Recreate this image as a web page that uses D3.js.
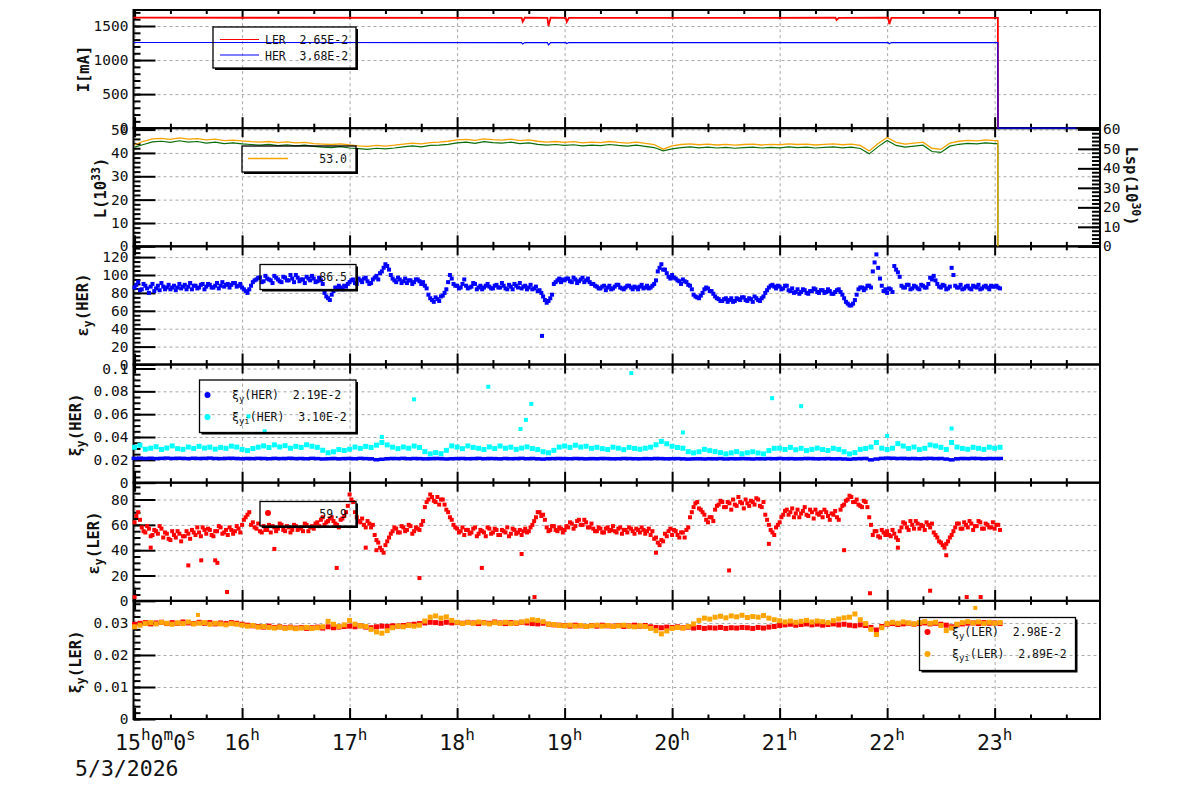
<!DOCTYPE html>
<html>
<head>
<meta charset="utf-8">
<title>Beam trend 5/3/2026</title>
<script src="https://d3js.org/d3.v7.min.js"></script>
<style>
  body { margin: 0; background: #fff; }
  svg text { font-family: "DejaVu Sans Mono", monospace; fill: #111; }
  .grid line { stroke: #a8a8a8; stroke-dasharray: 3,3; stroke-width: 1; }
  .grid .domain { display: none; }
  .tk line { stroke: #000; stroke-width: 2; }
  .tk .domain { display: none; }
  .tk text { font-size: 14.5px; }
  .lg { font-size: 11.5px; white-space: pre; }
</style>
</head>
<body>
<script>
// ---------------- data (hours of day) ----------------
var hourTicks = [15, 16, 17, 18, 19, 20, 21, 22, 23];
var hourLabels = ["15", "16", "17", "18", "19", "20", "21", "22", "23"];
var dateLabel = "5/3/2026";

// beam currents [mA]: break points
var curTime = [14.99, 18.60, 18.61, 18.63, 18.84, 18.85, 18.87, 19.01, 19.02, 19.04, 21.52, 21.53, 21.55, 22.01, 22.02, 22.04, 23.03, 23.031, 23.76];
var curLER  = [1622, 1620, 1565, 1621, 1620, 1500, 1621, 1620, 1562, 1620, 1621, 1588, 1620, 1621, 1528, 1620, 1620, 0, 0];
var curHER  = [1258, 1257, 1236, 1257, 1257, 1222, 1257, 1257, 1244, 1257, 1257, 1255, 1257, 1257, 1240, 1257, 1257, 0, 0];

// luminosity, 5 min samples from 15:00
var lumStep = 5;
var lumOrange = [43.5,45.0,46.0,46.2,45.8,46.4,45.9,46.1,45.6,45.9,45.3,45.5,
  45.2,44.8,44.6,44.9,44.4,44.7,44.3,44.5,44.0,43.8,43.6,43.9,
  43.4,43.0,42.8,43.2,42.9,43.3,43.8,44.2,43.9,44.4,44.6,45.0,
  45.6,45.8,45.4,46.0,45.7,45.5,45.9,45.3,45.6,45.0,44.6,44.9,
  44.5,44.8,44.3,44.6,44.4,44.9,44.5,44.2,44.6,44.1,43.6,41.6,
  43.0,43.6,43.9,43.5,43.8,43.4,43.7,43.3,43.6,43.8,43.4,43.7,
  43.5,43.9,43.6,43.8,43.4,43.7,43.9,43.5,43.8,43.2,40.8,44.0,
  46.6,44.5,43.8,44.2,44.6,42.0,41.5,44.2,45.0,45.4,45.2,45.6,
  45.3];
var lumGreen = [42.5,43.6,44.7,45.0,44.5,45.2,44.6,44.9,44.2,44.6,44.0,44.3,
  43.9,43.6,43.3,43.7,43.1,43.5,43.0,43.3,42.8,42.5,42.3,42.7,
  42.1,41.8,41.5,42.0,41.7,42.1,42.6,43.0,42.6,43.2,43.3,43.7,
  44.3,44.6,44.1,44.8,44.4,44.2,44.6,44.0,44.3,43.7,43.3,43.6,
  43.2,43.5,43.0,43.3,43.1,43.6,43.2,42.9,43.3,42.8,42.3,40.9,
  41.7,42.3,42.6,42.2,42.5,42.1,42.4,42.0,42.3,42.5,42.1,42.4,
  42.2,42.6,42.3,42.5,42.1,42.4,42.6,42.2,42.5,41.9,39.6,42.7,
  45.3,43.2,42.5,42.9,43.3,40.6,40.2,42.9,43.7,44.1,43.9,44.3,
  44.0];
var lumOffTime = 23.03;

// vertical emittance HER, 2 min samples from 15:00 (even minutes) and 15:01 (odd minutes)
var emitStep = 2;
var emitHER = [86,92,84,88,80,90,85,83,87,86,84,88,86,85,89,87,84,88,86,90,87,89,86,91,88,87,90,89,91,88,
  86,82,84,92,95,97,93,96,94,99,95,92,97,94,96,100,93,95,98,94,96,93,94,80,74,78,86,88,84,87,
  92,95,90,94,96,93,91,97,95,104,112,106,96,92,95,93,91,94,92,95,90,88,78,72,75,71,77,84,100,90,
  88,86,95,85,87,90,86,84,88,87,85,89,86,88,84,87,90,86,85,88,86,84,87,83,76,69,74,90,94,92,
  94,96,92,95,93,97,94,92,90,87,85,88,86,84,87,89,85,86,88,84,86,87,85,88,86,90,104,112,106,98,
  100,96,93,95,92,88,78,75,77,84,85,82,76,73,71,74,72,70,74,72,75,71,73,76,72,74,80,86,89,85,
  87,85,88,82,80,84,81,83,79,82,84,80,83,81,82,79,83,81,74,68,66,72,84,86,85,88,104,123,96,82,
  80,84,110,103,88,86,89,85,87,84,88,86,97,99,90,86,88,85,108,88,86,84,87,85,88,86,84,87,86,88,
  87,86];
var emitHERodd = [89,83,90,85,87,82,88,91,84,89,86,83,90,87,84,91,88,85,89,84,90,86,88,85,92,89,86,91,87,90,
  84,80,88,94,97,92,99,95,91,97,93,98,94,100,92,97,95,91,96,99,92,97,90,76,72,82,84,86,88,90,
  94,91,96,92,97,90,95,99,102,108,110,100,94,97,91,96,94,90,95,93,92,85,74,70,73,76,80,92,96,88,
  85,90,88,86,91,84,88,86,90,85,88,86,91,85,89,84,88,91,87,84,89,85,82,80,72,71,78,92,96,95,
  96,93,97,91,95,92,96,90,88,85,87,83,88,85,89,86,84,88,86,87,84,89,86,85,88,94,108,106,102,96,
  97,94,90,93,89,84,76,74,80,86,82,79,74,71,73,70,74,71,73,75,72,74,70,74,71,76,83,88,87,88,
  84,88,83,85,81,79,84,80,82,85,81,83,80,84,79,81,84,78,70,66,68,78,86,83,88,86,114,108,88,84,
  85,81,106,98,86,89,84,88,85,89,86,90,95,94,87,89,84,87,100,86,89,85,88,84,87,89,85,88,84,87,
  88,85];
var emitHEROutT = [18.79];
var emitHEROutV = [32];

// vertical emittance LER
var emitLER = [62,70,58,54,57,52,55,59,50,53,48,52,55,47,51,53,56,52,54,58,53,56,51,55,58,54,52,56,55,57,
  60,66,70,62,57,55,59,56,54,58,57,60,55,58,56,59,57,55,60,58,57,62,64,60,63,66,61,58,65,70,
  84,78,66,62,60,63,58,52,46,40,44,50,55,57,54,58,56,59,55,57,60,74,80,82,78,76,80,72,66,60,
  57,55,52,56,54,58,53,55,51,57,54,56,52,55,58,53,56,54,52,57,55,60,66,70,68,58,56,59,55,57,
  56,58,61,59,64,60,62,58,57,55,57,54,58,56,55,57,53,56,58,55,57,54,56,55,52,49,46,48,53,55,
  52,55,50,54,56,66,74,78,72,68,62,66,72,76,78,74,77,80,75,78,73,77,79,76,80,74,68,60,54,58,
  62,68,72,70,66,72,69,74,67,70,72,68,66,70,64,68,66,72,76,80,82,78,76,74,78,66,52,55,50,54,
  55,51,53,48,58,61,56,60,63,57,59,62,58,54,50,46,42,47,52,58,61,57,60,63,56,59,62,57,60,58,
  57,60];
var emitLERodd = [67,64,55,59,51,56,53,57,54,49,55,50,53,51,55,49,54,58,51,56,57,52,55,59,53,56,58,53,59,54,
  64,68,60,58,61,54,56,60,59,55,61,56,59,54,60,56,58,61,55,59,61,59,66,62,65,63,60,64,67,75,
  80,70,63,65,58,61,60,48,42,38,47,53,58,54,59,55,60,53,58,56,63,78,84,79,82,80,76,70,64,58,
  54,58,56,53,57,51,56,54,58,53,57,52,56,54,51,57,53,56,55,54,58,63,70,67,64,55,59,56,58,54,
  59,62,57,63,60,64,58,61,55,58,54,57,55,59,54,58,56,54,57,53,56,58,53,57,55,50,44,47,51,57,
  56,52,54,50,58,70,77,73,70,64,66,63,75,79,74,78,72,76,82,77,80,75,78,81,75,78,64,56,52,60,
  66,71,68,73,69,66,71,68,72,65,69,70,72,67,69,71,64,75,79,83,78,80,75,79,74,60,55,51,56,52,
  52,56,50,55,62,58,63,57,61,60,56,60,61,52,47,44,45,50,55,61,57,62,58,61,59,63,57,61,58,62,
  60,56];
var emitLEROutT = [15.0, 15.15, 15.5, 15.62, 15.75, 15.77, 15.86, 16.3, 16.88, 17.15, 17.25, 17.65, 18.23, 18.6, 18.72, 19.85, 20.53, 20.9, 21.6, 21.84, 22.1, 22.4, 22.55, 22.74, 22.87];
var emitLEROutV = [3, 42, 28, 32, 32, 30, 7, 41, 26, 42, 40, 18, 26, 37, 3, 38, 24, 45, 40, 6, 42, 8, 36, 3, 3];

// beam-beam parameters, 3 min samples from 15:00
var xiStep = 3;
var xiHER = [0.0213,0.0215,0.0212,0.0214,0.0211,0.0213,0.0215,0.0212,0.0214,0.0213,0.0211,0.0214,0.0212,0.0213,0.0215,0.0212,0.0211,0.0213,0.0214,0.0212,
  0.0210,0.0212,0.0211,0.0213,0.0212,0.0210,0.0213,0.0211,0.0212,0.0214,0.0211,0.0212,0.0210,0.0213,0.0211,0.0208,0.0210,0.0212,0.0209,0.0211,
  0.0212,0.0210,0.0213,0.0211,0.0209,0.0201,0.0205,0.0210,0.0212,0.0211,0.0213,0.0210,0.0212,0.0211,0.0209,0.0210,0.0212,0.0211,0.0208,0.0210,
  0.0211,0.0212,0.0210,0.0211,0.0213,0.0210,0.0212,0.0211,0.0209,0.0212,0.0210,0.0211,0.0213,0.0210,0.0212,0.0209,0.0207,0.0210,0.0211,0.0212,
  0.0211,0.0210,0.0212,0.0211,0.0209,0.0211,0.0210,0.0212,0.0211,0.0209,0.0210,0.0212,0.0211,0.0210,0.0209,0.0211,0.0210,0.0212,0.0211,0.0209,
  0.0210,0.0211,0.0209,0.0207,0.0209,0.0210,0.0208,0.0210,0.0209,0.0211,0.0208,0.0210,0.0209,0.0211,0.0210,0.0208,0.0210,0.0209,0.0211,0.0210,
  0.0212,0.0210,0.0211,0.0209,0.0210,0.0212,0.0211,0.0209,0.0210,0.0211,0.0209,0.0210,0.0208,0.0205,0.0209,0.0211,0.0212,0.0200,0.0207,0.0213,
  0.0215,0.0214,0.0212,0.0213,0.0211,0.0212,0.0210,0.0212,0.0213,0.0211,0.0212,0.0207,0.0200,0.0209,0.0212,0.0211,0.0213,0.0212,0.0210,0.0212,
  0.0211,0.0212];
var xiiHER = [0.0310,0.0328,0.0293,0.0302,0.0315,0.0291,0.0304,0.0322,0.0298,0.0292,0.0312,0.0300,0.0318,0.0303,0.0311,0.0294,0.0309,0.0301,0.0320,0.0312,
  0.0292,0.0281,0.0299,0.0311,0.0322,0.0308,0.0331,0.0313,0.0324,0.0302,0.0318,0.0309,0.0332,0.0319,0.0310,0.0284,0.0262,0.0271,0.0290,0.0282,
  0.0293,0.0312,0.0301,0.0318,0.0309,0.0329,0.0352,0.0331,0.0311,0.0298,0.0313,0.0302,0.0321,0.0308,0.0272,0.0252,0.0263,0.0254,0.0283,0.0322,
  0.0312,0.0298,0.0322,0.0309,0.0301,0.0291,0.0313,0.0299,0.0321,0.0302,0.0311,0.0292,0.0303,0.0314,0.0299,0.0290,0.0271,0.0262,0.0283,0.0312,
  0.0321,0.0309,0.0328,0.0312,0.0319,0.0301,0.0310,0.0298,0.0291,0.0311,0.0302,0.0289,0.0309,0.0300,0.0293,0.0302,0.0311,0.0332,0.0362,0.0341,
  0.0319,0.0308,0.0302,0.0272,0.0261,0.0271,0.0292,0.0281,0.0272,0.0263,0.0252,0.0261,0.0272,0.0253,0.0262,0.0271,0.0260,0.0252,0.0281,0.0301,
  0.0302,0.0291,0.0309,0.0288,0.0301,0.0281,0.0292,0.0303,0.0290,0.0282,0.0301,0.0292,0.0271,0.0252,0.0263,0.0292,0.0300,0.0312,0.0352,0.0302,
  0.0291,0.0302,0.0342,0.0321,0.0300,0.0312,0.0290,0.0301,0.0331,0.0322,0.0310,0.0291,0.0352,0.0312,0.0300,0.0293,0.0310,0.0301,0.0292,0.0311,
  0.0302,0.0310];
var xiiHEROutT = [16.06, 16.21, 17.3, 17.6, 18.29, 18.59, 18.64, 18.69, 19.62, 20.1, 20.93, 21.2, 22.0, 22.6];
var xiiHEROutV = [0.058, 0.045, 0.040, 0.073, 0.084, 0.047, 0.055, 0.069, 0.096, 0.044, 0.074, 0.067, 0.041, 0.0475];

var xiLER = [0.0296,0.0299,0.0301,0.0297,0.0300,0.0302,0.0298,0.0301,0.0299,0.0303,0.0300,0.0298,0.0302,0.0299,0.0301,0.0297,0.0300,0.0298,0.0301,0.0299,
  0.0296,0.0293,0.0291,0.0289,0.0287,0.0290,0.0286,0.0288,0.0285,0.0287,0.0284,0.0286,0.0283,0.0285,0.0287,0.0284,0.0288,0.0285,0.0287,0.0289,
  0.0290,0.0288,0.0291,0.0287,0.0285,0.0288,0.0290,0.0289,0.0291,0.0290,0.0292,0.0294,0.0296,0.0298,0.0300,0.0302,0.0301,0.0299,0.0302,0.0300,
  0.0301,0.0299,0.0302,0.0300,0.0298,0.0301,0.0299,0.0303,0.0300,0.0298,0.0301,0.0299,0.0302,0.0300,0.0298,0.0297,0.0299,0.0296,0.0294,0.0293,
  0.0292,0.0290,0.0293,0.0291,0.0289,0.0292,0.0290,0.0293,0.0291,0.0290,0.0292,0.0289,0.0291,0.0293,0.0290,0.0292,0.0288,0.0286,0.0285,0.0287,
  0.0286,0.0288,0.0285,0.0287,0.0284,0.0286,0.0283,0.0285,0.0284,0.0286,0.0283,0.0285,0.0284,0.0286,0.0285,0.0283,0.0286,0.0284,0.0287,0.0289,
  0.0292,0.0294,0.0296,0.0293,0.0295,0.0297,0.0294,0.0296,0.0293,0.0295,0.0297,0.0294,0.0296,0.0293,0.0291,0.0294,0.0292,0.0286,0.0278,0.0289,
  0.0296,0.0298,0.0295,0.0297,0.0299,0.0296,0.0298,0.0300,0.0297,0.0299,0.0296,0.0293,0.0288,0.0294,0.0297,0.0299,0.0300,0.0298,0.0301,0.0299,
  0.0300,0.0298];
var xiiLER = [0.0288,0.0293,0.0298,0.0301,0.0297,0.0302,0.0299,0.0296,0.0300,0.0298,0.0303,0.0297,0.0299,0.0301,0.0296,0.0299,0.0297,0.0294,0.0298,0.0296,
  0.0293,0.0290,0.0292,0.0287,0.0289,0.0286,0.0284,0.0287,0.0283,0.0285,0.0282,0.0284,0.0286,0.0283,0.0285,0.0288,0.0305,0.0296,0.0289,0.0294,
  0.0308,0.0296,0.0291,0.0289,0.0280,0.0272,0.0268,0.0276,0.0285,0.0290,0.0288,0.0292,0.0290,0.0293,0.0306,0.0318,0.0322,0.0315,0.0319,0.0308,
  0.0302,0.0298,0.0301,0.0299,0.0303,0.0300,0.0297,0.0301,0.0299,0.0302,0.0298,0.0300,0.0303,0.0306,0.0310,0.0308,0.0304,0.0296,0.0295,0.0292,
  0.0291,0.0293,0.0290,0.0292,0.0289,0.0291,0.0293,0.0290,0.0292,0.0289,0.0291,0.0293,0.0290,0.0288,0.0291,0.0289,0.0283,0.0276,0.0266,0.0275,
  0.0283,0.0286,0.0284,0.0289,0.0297,0.0308,0.0315,0.0312,0.0318,0.0321,0.0316,0.0322,0.0319,0.0324,0.0317,0.0320,0.0318,0.0323,0.0315,0.0310,
  0.0307,0.0303,0.0306,0.0302,0.0305,0.0308,0.0303,0.0306,0.0304,0.0301,0.0307,0.0312,0.0316,0.0318,0.0328,0.0310,0.0298,0.0280,0.0264,0.0285,
  0.0298,0.0302,0.0299,0.0303,0.0300,0.0297,0.0301,0.0304,0.0299,0.0302,0.0292,0.0276,0.0284,0.0296,0.0301,0.0304,0.0300,0.0303,0.0298,0.0302,
  0.0299,0.0301];
var xiiLEROutT = [15.59, 22.82];
var xiiLEROutV = [0.0325, 0.0347];

// legend numbers
var legI = ["2.65E-2", "3.68E-2"];
var legLum = "53.0";
var legEmitHER = "86.5";
var legXiHER = ["2.19E-2", "3.10E-2"];
var legEmitLER = "59.9";
var legXiLER = ["2.98E-2", "2.89E-2"];

// ---------------- layout ----------------
var W = 1200, H = 798;
var X0 = 133.5, X1 = 1100, TOP = 10, PH = 118.17;
var x = d3.scaleLinear().domain([14.99, 23.98]).range([X0, X1]);
var minorX = d3.range(1, 27).map(function(i) { return 15 + i / 3; })
  .filter(function(t) { return Math.abs(t - Math.round(t)) > 0.01; });

var svg = d3.select("body").append("svg").attr("width", W).attr("height", H);
// layers: grid below, frames and ticks, data over frames (like ROOT), legends on top
var gridL = svg.append("g"), frameL = svg.append("g"), dataL = svg.append("g"), legL = svg.append("g");

function sampleTimes(n, stepMin, offsetMin) {
  return d3.range(n).map(function(i) { return 15 + ((offsetMin || 0) + i * stepMin) / 60; });
}

function stepRange(step, max) {
  return d3.range(0, Math.floor(max / step + 1e-6) + 1).map(function(i) { return +(i * step).toFixed(6); });
}

function panel(k, ymax, majors, minorStep, fmt) {
  var top = TOP + k * PH, bot = top + PH;
  var y = d3.scaleLinear().domain([0, ymax]).range([bot, top]);

  gridL.append("g").attr("class", "grid").attr("transform", "translate(" + X0 + ",0)")
    .call(d3.axisLeft(y).tickValues(majors.filter(function(v) { return v > 0; })).tickSize(-(X1 - X0)).tickFormat(""));
  gridL.append("g").attr("class", "grid").attr("transform", "translate(0," + bot + ")")
    .call(d3.axisBottom(x).tickValues(hourTicks).tickSize(-PH).tickFormat(""));

  var axisG = frameL.append("g");
  axisG.append("rect").attr("x", X0).attr("y", top).attr("width", X1 - X0).attr("height", PH)
    .attr("fill", "none").attr("stroke", "#000").attr("stroke-width", 2);

  axisG.append("g").attr("class", "tk").attr("transform", "translate(" + X0 + ",0)")
    .call(d3.axisLeft(y).tickValues(majors).tickSize(-22).tickPadding(5).tickFormat(fmt));
  axisG.append("g").attr("class", "tk").attr("transform", "translate(" + X0 + ",0)")
    .call(d3.axisLeft(y).tickValues(stepRange(minorStep, ymax)).tickSize(-7).tickFormat(""));

  axisG.append("g").attr("class", "tk").attr("transform", "translate(0," + bot + ")")
    .call(d3.axisBottom(x).tickValues(hourTicks).tickSize(-11).tickFormat(""));
  axisG.append("g").attr("class", "tk").attr("transform", "translate(0," + bot + ")")
    .call(d3.axisBottom(x).tickValues(minorX).tickSize(-4.5).tickFormat(""));
  axisG.append("g").attr("class", "tk").attr("transform", "translate(0," + top + ")")
    .call(d3.axisTop(x).tickValues(hourTicks).tickSize(-9).tickFormat(""));
  axisG.append("g").attr("class", "tk").attr("transform", "translate(0," + top + ")")
    .call(d3.axisTop(x).tickValues(minorX).tickSize(-4).tickFormat(""));

  return { y: y, top: top, bot: bot, data: dataL.append("g"), axis: axisG, leg: legL.append("g") };
}

function richText(sel, parts, size, small, shift) {
  parts.forEach(function(p) {
    var ts = sel.append("tspan").text(p[0]);
    if (p[1] === "sub") ts.attr("font-size", small).attr("dy", shift);
    else if (p[1] === "sup") ts.attr("font-size", small).attr("dy", -shift * 1.5);
    else ts.attr("font-size", size);
    if (p[2]) ts.attr("dy", p[2]);
  });
  return sel;
}

function yTitle(cx, cy, angle, parts) {
  var t = svg.append("text")
    .attr("transform", "translate(" + cx + "," + cy + ") rotate(" + angle + ")")
    .attr("text-anchor", "middle").attr("y", 5)
    .attr("font-weight", "bold");
  richText(t, parts, 15.5, 11.5, 4);
}

function scatter(p, times, vals, color, w, h) {
  p.data.append("g").selectAll("rect")
    .data(times.map(function(t, i) { return [t, vals[i]]; }))
    .join("rect")
    .attr("x", function(d) { return x(d[0]) - w / 2; })
    .attr("y", function(d) { return p.y(d[1]) - h / 2; })
    .attr("width", w).attr("height", h)
    .attr("fill", color);
}

function legendBox(p, x1, y1, x2, y2) {
  p.leg.append("path")
    .attr("d", "M" + (x2 + 1) + "," + (y1 + 2) + "V" + (y2 + 1) + "H" + (x1 + 2))
    .attr("fill", "none").attr("stroke", "#000").attr("stroke-width", 2);
  p.leg.append("rect").attr("x", x1).attr("y", y1).attr("width", x2 - x1).attr("height", y2 - y1)
    .attr("fill", "none").attr("stroke", "#000").attr("stroke-width", 1.3);
}

function legendText(p, tx, ty, parts) {
  var t = p.leg.append("text").attr("class", "lg").attr("x", tx).attr("y", ty);
  richText(t, parts, 11.5, 9, 3);
}

var fmtInt = function(d) { return d3.format("d")(d); };
var fmtDec = function(d) { return d === 0 ? "0" : d3.format(".2~f")(d); };

// ---------------- panel 1: currents ----------------
var p1 = panel(0, 1735, [0, 500, 1000, 1500], 100, fmtInt);
var curPts = curTime.map(function(t, i) { return [t, curLER[i], curHER[i]]; });
// LER trace stops once the beam is gone; HER trace keeps logging 0
p1.data.append("path").datum(curPts.filter(function(d) { return d[0] <= lumOffTime + 0.01; }))
  .attr("fill", "none").attr("stroke", "#ff0000").attr("stroke-width", 1.8)
  .attr("d", d3.line().x(function(d) { return x(d[0]); }).y(function(d) { return p1.y(d[1]); }));
p1.data.append("path").datum(curPts).attr("fill", "none").attr("stroke", "#0000ff").attr("stroke-width", 1.2)
  .attr("d", d3.line().x(function(d) { return x(d[0]); }).y(function(d) { return p1.y(d[2]); }));
legendBox(p1, 213, 27, 356, 68);
p1.leg.append("line").attr("x1", 220).attr("x2", 259).attr("y1", 39.5).attr("y2", 39.5).attr("stroke", "#ff0000").attr("stroke-width", 1.2);
p1.leg.append("line").attr("x1", 220).attr("x2", 259).attr("y1", 55).attr("y2", 55).attr("stroke", "#0000ff").attr("stroke-width", 1.2);
legendText(p1, 265, 44, [["LER  " + legI[0]]]);
legendText(p1, 265, 59.5, [["HER  " + legI[1]]]);

// ---------------- panel 2: luminosity ----------------
var p2 = panel(1, 50.6, [0, 10, 20, 30, 40, 50], 2, fmtInt);
var lumT = sampleTimes(lumOrange.length, lumStep);
var lumLine = d3.line().x(function(d) { return x(d[0]); }).y(function(d) { return p2.y(d[1]); });
function lumPts(vals) {
  var pts = lumT.map(function(t, i) { return [t, vals[i]]; });
  pts.push([lumOffTime, vals[vals.length - 1]]);
  pts.push([lumOffTime, 0]);
  return pts;
}
p2.data.append("path").datum(lumPts(lumGreen)).attr("fill", "none").attr("stroke", "#0b6e0b").attr("stroke-width", 1.2).attr("d", lumLine);
p2.data.append("path").datum(lumPts(lumOrange)).attr("fill", "none").attr("stroke", "#f5a300").attr("stroke-width", 1.3).attr("d", lumLine);
var yR = d3.scaleLinear().domain([0, 60.6]).range([p2.bot, p2.top]);
p2.axis.append("g").attr("class", "tk").attr("transform", "translate(" + X1 + ",0)")
  .call(d3.axisRight(yR).tickValues([0, 10, 20, 30, 40, 50, 60]).tickSize(-22).tickPadding(3).tickFormat(fmtInt));
p2.axis.append("g").attr("class", "tk").attr("transform", "translate(" + X1 + ",0)")
  .call(d3.axisRight(yR).tickValues(stepRange(2, 60)).tickSize(-8).tickFormat(""));
legendBox(p2, 242, 146, 356, 172);
p2.leg.append("line").attr("x1", 248).attr("x2", 288).attr("y1", 158.5).attr("y2", 158.5).attr("stroke", "#f5a300").attr("stroke-width", 1.3);
p2.leg.append("text").attr("class", "lg").attr("x", 347).attr("y", 163).attr("text-anchor", "end").text(legLum);

// ---------------- panel 3: emittance HER ----------------
var p3 = panel(2, 132, [0, 20, 40, 60, 80, 100, 120], 5, fmtInt);
scatter(p3, sampleTimes(emitHER.length, emitStep), emitHER, "#0000ff", 4, 4);
scatter(p3, sampleTimes(emitHERodd.length, emitStep, 1), emitHERodd, "#0000ff", 4, 4);
scatter(p3, emitHEROutT, emitHEROutV, "#0000ff", 4, 4);
legendBox(p3, 260, 264.5, 356, 289.5);
p3.leg.append("text").attr("class", "lg").attr("x", 347).attr("y", 281).attr("text-anchor", "end").text(legEmitHER);

// ---------------- panel 4: xi HER ----------------
var p4 = panel(3, 0.1035, [0, 0.02, 0.04, 0.06, 0.08, 0.1], 0.005, fmtDec);
var xiT = sampleTimes(xiHER.length, xiStep);
scatter(p4, xiT, xiiHER, "#00ffff", 5, 5);
scatter(p4, xiiHEROutT, xiiHEROutV, "#00ffff", 4, 4);
scatter(p4, xiT, xiHER, "#0000ff", 6, 3.5);
legendBox(p4, 199.5, 380, 356, 432.5);
p4.leg.append("circle").attr("cx", 207.5).attr("cy", 395).attr("r", 3).attr("fill", "#0000ff");
p4.leg.append("circle").attr("cx", 207.5).attr("cy", 417).attr("r", 3).attr("fill", "#00ffff");
legendText(p4, 232, 398.5, [["ξ"], ["y", "sub"], ["(HER)  " + legXiHER[0], null, -3]]);
legendText(p4, 232, 420.5, [["ξ"], ["yi", "sub"], ["(HER)  " + legXiHER[1], null, -3]]);

// ---------------- panel 5: emittance LER ----------------
var p5 = panel(4, 93.3, [0, 20, 40, 60, 80], 5, fmtInt);
scatter(p5, sampleTimes(emitLER.length, emitStep), emitLER, "#ff0000", 4, 4);
scatter(p5, sampleTimes(emitLERodd.length, emitStep, 1), emitLERodd, "#ff0000", 4, 4);
scatter(p5, emitLEROutT, emitLEROutV, "#ff0000", 4, 4);
legendBox(p5, 260, 501.5, 356, 526);
p5.leg.append("circle").attr("cx", 268).attr("cy", 513).attr("r", 3).attr("fill", "#ff0000");
p5.leg.append("text").attr("class", "lg").attr("x", 347).attr("y", 518).attr("text-anchor", "end").text(legEmitLER);

// ---------------- panel 6: xi LER ----------------
var p6 = panel(5, 0.0369, [0, 0.01, 0.02, 0.03], 0.002, fmtDec);
scatter(p6, xiT, xiLER, "#ff0000", 5, 5);
scatter(p6, xiT, xiiLER, "#ffa500", 5, 5);
scatter(p6, xiiLEROutT, xiiLEROutV, "#ffa500", 4, 4);
legendBox(p6, 919.5, 617.5, 1075.5, 670.5);
p6.leg.append("circle").attr("cx", 927.5).attr("cy", 632).attr("r", 3).attr("fill", "#ff0000");
p6.leg.append("circle").attr("cx", 927.5).attr("cy", 654).attr("r", 3).attr("fill", "#ffa500");
legendText(p6, 952, 635.5, [["ξ"], ["y", "sub"], ["(LER)  " + legXiLER[0], null, -3]]);
legendText(p6, 952, 657.5, [["ξ"], ["yi", "sub"], ["(LER)  " + legXiLER[1], null, -3]]);

// ---------------- axis titles ----------------
yTitle(84, 69, -90, [["I[mA]"]]);
yTitle(101, 188, -90, [["L(10"], ["33", "sup"], [")", null, 6]]);
yTitle(83, 305, -90, [["ε"], ["y", "sub"], ["(HER)", null, -4]]);
yTitle(76, 425, -90, [["ξ"], ["y", "sub"], ["(HER)", null, -4]]);
yTitle(94, 543, -90, [["ε"], ["y", "sub"], ["(LER)", null, -4]]);
yTitle(76, 662, -90, [["ξ"], ["y", "sub"], ["(LER)", null, -4]]);
yTitle(1131, 186, 90, [["Lsp(10"], ["30", "sup"], [")", null, 6]]);

// ---------------- time labels ----------------
var tl = svg.append("g");
hourTicks.forEach(function(h, i) {
  var t = tl.append("text").attr("y", 750);
  if (i === 0) {
    t.attr("x", 115).attr("text-anchor", "start");
    richText(t, [[hourLabels[i]], ["h", "sup"], ["0", null, 10], ["m", "sup"], ["0", null, 10], ["s", "sup"]], 21.5, 16, 6.67);
  } else {
    t.attr("x", x(h)).attr("text-anchor", "middle");
    richText(t, [[hourLabels[i]], ["h", "sup"]], 21.5, 16, 6.67);
  }
});
tl.append("text").attr("x", 75).attr("y", 776).attr("font-size", 21.5).text(dateLabel);
</script>
</body>
</html>
